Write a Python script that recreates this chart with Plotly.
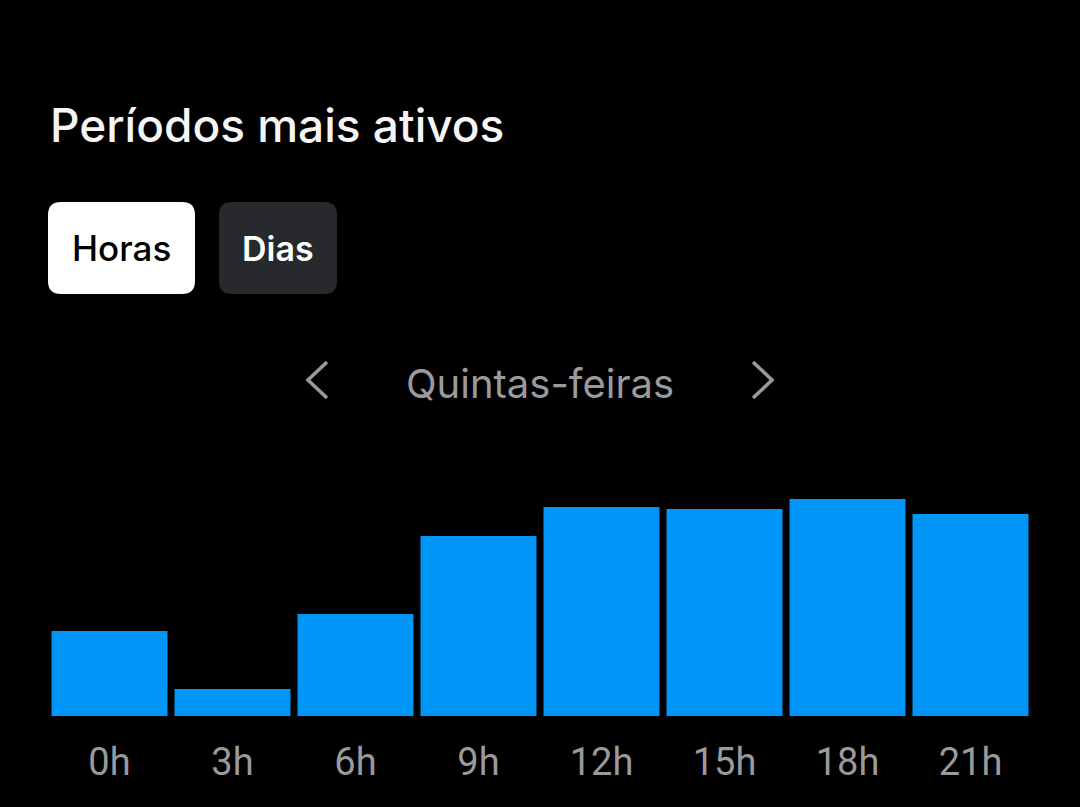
import plotly.graph_objects as go

# dados (altura relativa das barras)
horas = ["0h", "3h", "6h", "9h", "12h", "15h", "18h", "21h"]
atividade = [85, 27, 102, 180, 209, 207, 217, 202]

W, H = 1080, 807
# área do gráfico em pixels
L, R = 48, 1032
TOP, BOT = 460, 716
Y_MAX = BOT - TOP

AZUL = "#0095f6"
CINZA = "#9a9a9e"
FONTE = "Roboto, 'Noto Sans', sans-serif"
FONTE_UI = "Inter, Roboto, sans-serif"


def px(x):
    return (x - L) / (R - L)


def py(y):
    return (BOT - y) / (BOT - TOP)


def caixa_arredondada(x0, y0, x1, y1, r):
    # retângulo com cantos arredondados, em coordenadas de papel
    pts = [
        f"M {px(x0 + r)} {py(y0)}",
        f"L {px(x1 - r)} {py(y0)}",
        f"Q {px(x1)} {py(y0)} {px(x1)} {py(y0 + r)}",
        f"L {px(x1)} {py(y1 - r)}",
        f"Q {px(x1)} {py(y1)} {px(x1 - r)} {py(y1)}",
        f"L {px(x0 + r)} {py(y1)}",
        f"Q {px(x0)} {py(y1)} {px(x0)} {py(y1 - r)}",
        f"L {px(x0)} {py(y0 + r)}",
        f"Q {px(x0)} {py(y0)} {px(x0 + r)} {py(y0)}",
        "Z",
    ]
    return " ".join(pts)


fig = go.Figure(go.Bar(
    x=horas,
    y=atividade,
    marker=dict(color=AZUL, line=dict(width=0)),
    hoverinfo="skip",
))

shapes = [
    dict(type="path", xref="paper", yref="paper",
         path=caixa_arredondada(48, 202, 195, 294, 13),
         fillcolor="#ffffff", line=dict(width=0), layer="below"),
    dict(type="path", xref="paper", yref="paper",
         path=caixa_arredondada(219, 202, 337, 294, 13),
         fillcolor="#27292d", line=dict(width=0), layer="below"),
    # setas de navegação
    dict(type="path", xref="paper", yref="paper",
         path=f"M {px(327)} {py(362)} L {px(308)} {py(380)} L {px(327)} {py(398)}",
         line=dict(color=CINZA, width=3.5)),
    dict(type="path", xref="paper", yref="paper",
         path=f"M {px(753)} {py(362)} L {px(772)} {py(380)} L {px(753)} {py(398)}",
         line=dict(color=CINZA, width=3.5)),
]

annotations = [
    dict(text="Períodos mais ativos", x=px(48), y=py(125), xref="paper", yref="paper",
         xanchor="left", yanchor="middle", showarrow=False,
         font=dict(family=FONTE_UI, size=46, color="#f5f5f5", weight=500)),
    dict(text="Horas", x=px(121.5), y=py(248), xref="paper", yref="paper",
         xanchor="center", yanchor="middle", showarrow=False,
         font=dict(family=FONTE_UI, size=35, color="#000000", weight=500)),
    dict(text="Dias", x=px(278), y=py(248), xref="paper", yref="paper",
         xanchor="center", yanchor="middle", showarrow=False,
         font=dict(family=FONTE_UI, size=34, color="#ffffff", weight=600)),
    dict(text="Quintas-feiras", x=px(540), y=py(383), xref="paper", yref="paper",
         xanchor="center", yanchor="middle", showarrow=False,
         font=dict(family=FONTE_UI, size=40, color=CINZA)),
]

fig.update_layout(
    width=W,
    height=H,
    margin=dict(l=L, r=W - R, t=TOP, b=H - BOT),
    paper_bgcolor="#000000",
    plot_bgcolor="#000000",
    bargap=0.057,
    showlegend=False,
    shapes=shapes,
    annotations=annotations,
    xaxis=dict(
        showgrid=False, zeroline=False, showline=False, ticks="",
        tickfont=dict(family=FONTE, size=38, color=CINZA),
        ticklabelstandoff=20,
        fixedrange=True,
    ),
    yaxis=dict(
        range=[0, Y_MAX], showgrid=False, zeroline=False, showline=False,
        showticklabels=False, fixedrange=True,
    ),
)

fig.write_html(
    "out.html",
    config={"displayModeBar": False},
    post_script="document.body.style.margin='0';document.body.style.background='#000';",
)
